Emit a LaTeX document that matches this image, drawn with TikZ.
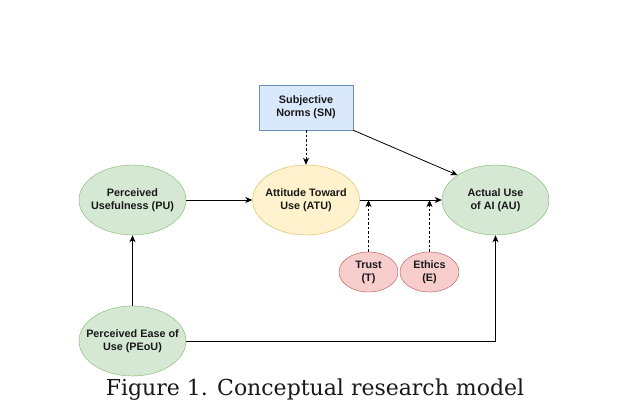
\documentclass[tikz,border=0pt]{standalone}
\usepackage{fontspec}
\setmainfont{Liberation Sans}
\newfontfamily\capfont{DejaVu Serif}
\usetikzlibrary{arrows.meta,shapes.geometric}
\definecolor{gfill}{HTML}{D5E8D4}\definecolor{gline}{HTML}{82B366}
\definecolor{yfill}{HTML}{FFF2CC}\definecolor{yline}{HTML}{D6B656}
\definecolor{rfill}{HTML}{F8CECC}\definecolor{rline}{HTML}{B85450}
\definecolor{bfill}{HTML}{DAE8FC}\definecolor{bline}{HTML}{6C8EBF}
\tikzset{
  lab/.style={font=\fontsize{10.8}{13}\selectfont\bfseries, align=center, text=black!90},
  bigell/.style={ellipse, lab, minimum width=107pt, minimum height=70pt, inner xsep=-12pt, inner ysep=0pt},
  smallell/.style={ellipse, lab, minimum width=59pt, minimum height=40pt, inner sep=0pt},
  green/.style={fill=gfill, draw=gline},
  yellow/.style={fill=yfill, draw=yline},
  red/.style={fill=rfill, draw=rline},
  conn/.style={-{Stealth[length=7pt,width=6pt,inset=2pt]}, line width=0.8pt},
  dconn/.style={conn, dash pattern=on 2.5pt off 2pt},
}
\begin{document}
\begin{tikzpicture}[x=1pt,y=-1pt]
\useasboundingbox (0,0) rectangle (620,409);
\node[lab, draw=bline, fill=bfill, minimum width=94pt, minimum height=45pt, inner sep=0pt] (sn) at (306,107.5) {Subjective\\Norms (SN)};
\node[bigell, green] (pu) at (132.5,200) {Perceived\\Usefulness (PU)};
\node[bigell, yellow] (atu) at (306,200) {Attitude Toward\\Use (ATU)};
\node[bigell, green] (au) at (495.5,200) {Actual Use\\of AI (AU)};
\node[smallell, red] (t) at (368.5,272) {Trust\\(T)};
\node[smallell, red] (e) at (429.5,272) {Ethics\\(E)};
\node[bigell, green] (peou) at (132.5,341) {Perceived Ease of\\Use (PEoU)};
\node[font=\capfont\fontsize{22}{24}\selectfont, text=black!90] (cap) at (315,390) {Figure 1. Conceptual research model};
\coordinate (tj) at (t.north |- atu.east);
\coordinate (ej) at (e.north |- atu.east);
\coordinate (pc) at (au.south |- peou.east);
\draw[conn] (pu) -- (atu);
\draw[conn] (atu) -- (au);
\draw[dconn] (t.north) -- (tj);
\draw[dconn] (e.north) -- (ej);
\draw[dconn] (sn.south) -- (atu.north);
\draw[conn] (sn.south east) -- (au.north west);
\draw[conn] (peou.north) -- (pu.south);
\draw[conn] (peou.east) -- (pc) -- (au.south);
\end{tikzpicture}
\end{document}
